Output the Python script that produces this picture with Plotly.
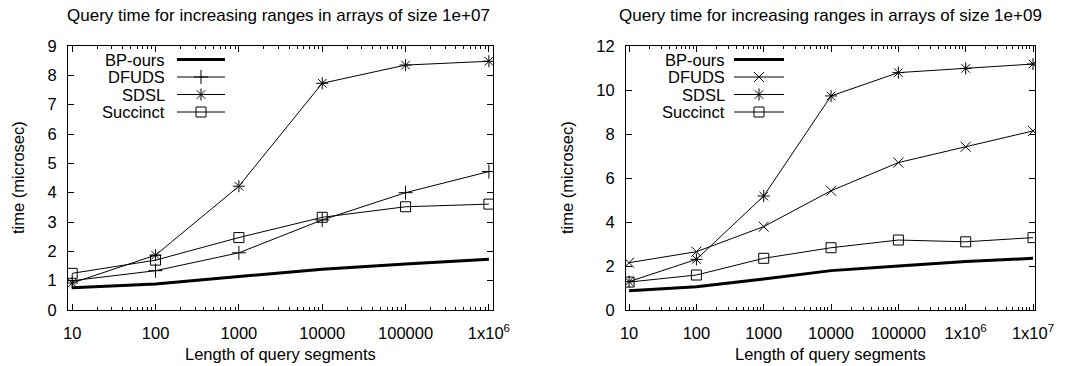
import math
import plotly.graph_objects as go

W, H = 1087, 366

series_names = ["BP-ours", "DFUDS", "SDSL", "Succinct"]

x_left = [10, 100, 1000, 10000, 100000, 1000000]
bp_left = [0.76, 0.89, 1.14, 1.39, 1.57, 1.73]
dfuds_left = [1.0, 1.34, 1.95, 3.07, 4.0, 4.72]
sdsl_left = [0.92, 1.87, 4.22, 7.73, 8.35, 8.48]
succ_left = [1.25, 1.7, 2.47, 3.16, 3.52, 3.61]

x_right = [10, 100, 1000, 10000, 100000, 1000000, 10000000]
bp_right = [0.88, 1.06, 1.41, 1.79, 2.0, 2.2, 2.35]
dfuds_right = [2.15, 2.65, 3.79, 5.42, 6.7, 7.42, 8.14]
sdsl_right = [1.29, 2.3, 5.18, 9.73, 10.79, 10.98, 11.18]
succ_right = [1.27, 1.59, 2.35, 2.83, 3.18, 3.1, 3.29]

tick_vals_left = [10, 100, 1000, 10000, 100000, 1000000]
tick_text_left = ["10", "100", "1000", "10000", "100000", "1x10<sup>6</sup>"]
tick_vals_right = [10, 100, 1000, 10000, 100000, 1000000, 10000000]
tick_text_right = ["10", "100", "1000", "10000", "100000", "1x10<sup>6</sup>", "1x10<sup>7</sup>"]

title_left = "Query time for increasing ranges in arrays of size 1e+07"
title_right = "Query time for increasing ranges in arrays of size 1e+09"
xlabel = "Length of query segments"
ylabel = "time (microsec)"

FONT = "Liberation Sans, Arial, sans-serif"
FS = 16.5
FS_TITLE = 17
MS = 10

symbols_left = [None, "cross-thin-open", "asterisk-open", "square-open"]
symbols_right = [None, "x-thin-open", "asterisk-open", "square-open"]

minor_ticks = [m * 10 ** d for d in range(0, 8) for m in range(2, 10)]

fig = go.Figure()

def add_series(xs, ys_list, symbols, xa, ya):
    for name, ys, sym in zip(series_names, ys_list, symbols):
        if sym is None:
            fig.add_trace(go.Scatter(x=xs, y=ys, mode="lines", name=name,
                                     line=dict(color="black", width=3),
                                     xaxis=xa, yaxis=ya, showlegend=False))
        else:
            fig.add_trace(go.Scatter(x=xs, y=ys, mode="lines+markers", name=name,
                                     line=dict(color="black", width=1),
                                     marker=dict(symbol=sym, size=MS, color="black",
                                                 line=dict(color="black", width=1)),
                                     xaxis=xa, yaxis=ya, showlegend=False))

add_series(x_left, [bp_left, dfuds_left, sdsl_left, succ_left], symbols_left, "x", "y")
add_series(x_right, [bp_right, dfuds_right, sdsl_right, succ_right], symbols_right, "x2", "y2")

# gnuplot-style legend (label right-aligned, sample to the right), in pixel overlay axes
leg_rows = [59.5, 77, 94.5, 112]
def add_legend(label_right, line_x0, line_x1, symbols):
    mid = (line_x0 + line_x1) / 2
    for name, sym, yy in zip(series_names, symbols, leg_rows):
        fig.add_annotation(x=label_right, y=yy, xref="x3", yref="y3", text=name,
                           showarrow=False, xanchor="right", yanchor="middle",
                           font=dict(family=FONT, size=FS, color="black"))
        fig.add_trace(go.Scatter(x=[line_x0, line_x1], y=[yy, yy], mode="lines",
                                 line=dict(color="black", width=3 if sym is None else 1),
                                 xaxis="x3", yaxis="y3", showlegend=False, hoverinfo="skip"))
        if sym is not None:
            fig.add_trace(go.Scatter(x=[mid], y=[yy], mode="markers",
                                     marker=dict(symbol=sym, size=MS, color="black",
                                                 line=dict(color="black", width=1)),
                                     xaxis="x3", yaxis="y3", showlegend=False, hoverinfo="skip"))

add_legend(167, 177, 225, symbols_left)
add_legend(727, 734, 784, symbols_right)

ytop = 1 - 46 / H
ybot = 1 - 310 / H

common_x = dict(type="log", showgrid=False, zeroline=False, showline=True, linecolor="black",
                linewidth=1, mirror="ticks", ticks="inside", ticklen=6, tickcolor="black",
                ticklabelstandoff=8, automargin=False,
                tickfont=dict(family=FONT, size=FS, color="black"),
                minor=dict(tickmode="array", tickvals=minor_ticks, ticks="inside",
                           ticklen=3, tickcolor="black", showgrid=False))
common_y = dict(showgrid=False, zeroline=False, showline=True, linecolor="black",
                linewidth=1, mirror="ticks", ticks="inside", ticklen=6, tickcolor="black",
                ticklabelstandoff=7, automargin=False,
                tickfont=dict(family=FONT, size=FS, color="black"))

fig.update_layout(
    width=W, height=H, margin=dict(l=0, r=0, t=0, b=0, pad=0, autoexpand=False),
    paper_bgcolor="white", plot_bgcolor="rgba(0,0,0,0)",
    showlegend=False,
    xaxis=dict(domain=[68 / W, 493 / W], anchor="y",
               range=[math.log10(8.9), math.log10(1.12e6)],
               tickvals=tick_vals_left, ticktext=tick_text_left, **common_x),
    yaxis=dict(domain=[ybot, ytop], anchor="x", range=[0, 9], dtick=1, **common_y),
    xaxis2=dict(domain=[626 / W, 1035 / W], anchor="y2",
                range=[math.log10(9.0), math.log10(1.07e7)],
                tickvals=tick_vals_right, ticktext=tick_text_right, **common_x),
    yaxis2=dict(domain=[ybot, ytop], anchor="x2", range=[0, 12], dtick=2, **common_y),
    xaxis3=dict(domain=[0, 1], anchor="y3", range=[0, W], visible=False,
                fixedrange=True, automargin=False),
    yaxis3=dict(domain=[0, 1], anchor="x3", range=[H, 0], visible=False,
                fixedrange=True, automargin=False),
)

for txt, cx in [(title_left, 278), (title_right, 830)]:
    fig.add_annotation(x=cx, y=15, xref="x3", yref="y3", text=txt, showarrow=False,
                       xanchor="center", yanchor="middle",
                       font=dict(family=FONT, size=FS_TITLE, color="black"))
for cx in [280, 830]:
    fig.add_annotation(x=cx, y=354, xref="x3", yref="y3", text=xlabel, showarrow=False,
                       xanchor="center", yanchor="middle",
                       font=dict(family=FONT, size=FS, color="black"))
for cx in [18, 567]:
    fig.add_annotation(x=cx, y=178, xref="x3", yref="y3", text=ylabel, showarrow=False,
                       textangle=-90, xanchor="center", yanchor="middle",
                       font=dict(family=FONT, size=FS, color="black"))

fig.write_html("out.html")
